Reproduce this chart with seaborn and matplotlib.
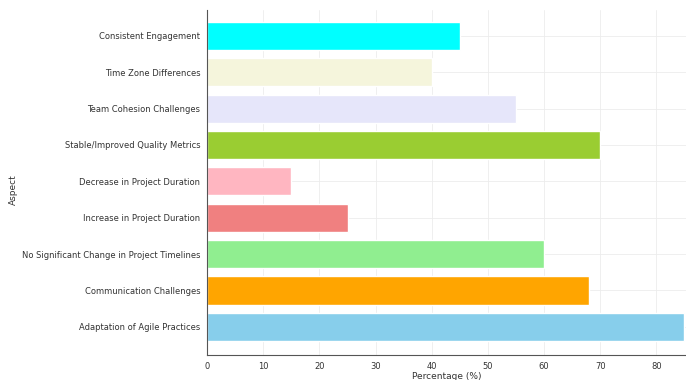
import matplotlib
matplotlib.use("Agg")
import matplotlib.pyplot as plt
import seaborn as sns
import pandas as pd

aspects = [
    "Consistent Engagement",
    "Time Zone Differences",
    "Team Cohesion Challenges",
    "Stable/Improved Quality Metrics",
    "Decrease in Project Duration",
    "Increase in Project Duration",
    "No Significant Change in Project Timelines",
    "Communication Challenges",
    "Adaptation of Agile Practices",
]
percentages = [45, 40, 55, 70, 15, 25, 60, 68, 85]
bar_colors = [
    "cyan", "beige", "lavender", "yellowgreen", "lightpink",
    "lightcoral", "lightgreen", "orange", "skyblue",
]
x_ticks = [0, 10, 20, 30, 40, 50, 60, 70, 80]

df = pd.DataFrame({"Aspect": aspects, "Percentage (%)": percentages})

sns.set_style("whitegrid")
plt.rcParams["font.family"] = ["DejaVu Sans"]

fig = plt.figure(figsize=(6.86, 3.8), dpi=100)
ax = fig.add_axes([0.302, 0.066, 0.698, 0.908])

sns.barplot(data=df, y="Aspect", x="Percentage (%)", hue="Aspect",
            palette=bar_colors, saturation=1, legend=False, width=0.77,
            ax=ax, zorder=2)

ax.set_xlim(0, 85.3)
ax.set_ylim(8.77, -0.71)
ax.set_xticks(x_ticks)
ax.tick_params(axis="both", labelsize=6, colors="#444444", length=3,
               width=0.6, pad=2)
ax.tick_params(axis="both", labelcolor="#333333")
ax.set_xlabel("Percentage (%)", fontsize=6.5, color="#333333", labelpad=0.5)
ax.set_ylabel("Aspect", fontsize=6.5, color="#333333")
ax.yaxis.set_label_coords(-0.395, 0.48)
ax.grid(True, color="#ececec", linewidth=0.6, zorder=0)
ax.set_axisbelow(True)
for side in ["top", "right"]:
    ax.spines[side].set_visible(False)
for side in ["left", "bottom"]:
    ax.spines[side].set_color("#555555")
    ax.spines[side].set_linewidth(0.8)

fig.savefig("out.png", dpi=100)
